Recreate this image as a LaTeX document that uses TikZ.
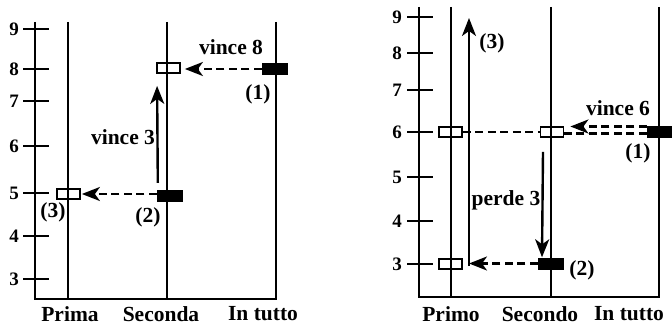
\documentclass[tikz,border=0pt]{standalone}
\usepackage{fontspec}
\setmainfont{Liberation Serif}
\usetikzlibrary{arrows.meta,calc}
\begin{document}
\begin{tikzpicture}[x=1pt,y=-1pt,
  lin/.style={line width=2.4pt},
  thin lin/.style={line width=2.1pt},
  openbox/.style={draw, line width=1.8pt, minimum width=23pt, minimum height=10pt, inner sep=0pt},
  fillbox/.style={fill=black, minimum width=26pt, minimum height=12pt, inner sep=0pt},
  dashline/.style={line width=2.3pt, dash pattern=on 8pt off 4.5pt},
  arr/.style={-{Stealth[length=18pt,width=14pt,inset=5pt]}},
  lbl/.style={font=\fontsize{21.5}{24}\selectfont\bfseries, inner sep=0pt},
  num/.style={font=\fontsize{19}{22}\selectfont\bfseries, inner sep=0pt}]
\useasboundingbox (0,0) rectangle (672,326);

% ---------- left diagram ----------
\draw[lin] (35,22) -- (35,299) -- (277,299);
\foreach \v/\y in {9/29,8/69,7/101,6/146,5/193,4/236,3/279}{
  \draw[lin] (23,\y) -- (49,\y);
  \node[num] (Ln\v) at (14,\y) {\v};
}
\draw[thin lin] (68,22) -- (68,299);
\draw[thin lin] (167,22) -- (167,299);
\draw[thin lin] (276,22) -- (276,299);

\node[openbox] (Lo8) at (168.5,68) {};
\node[fillbox] (Lf8) at (275,69) {};
\node[fillbox] (Lf5) at (170,196) {};
\node[openbox] (Lo5) at (68.5,194) {};

\draw[dashline,arr,shorten >=4pt] (Lf8.west) -- (Lf8.west -| Lo8.east);
\draw[dashline,arr,shorten >=1pt] ([yshift=2pt]Lf5.west) -- ([yshift=2pt]Lf5.west -| Lo5.east);
\draw[lin,arr] ([xshift=1pt,yshift=7pt]Lf5.north west) -- ([xshift=1pt,yshift=-12pt]Lo8.south west);

\node[lbl] (Lv8) at (231,47) {vince 8};
\node[lbl] (L1) at (258,94) {(1)};
\node[lbl] (Lv3) at (123,137) {vince 3};
\node[lbl] (L3) at (53,212) {(3)};
\node[lbl] (L2) at (148,217) {(2)};
\node[lbl] (Lp) at (70,314) {Prima};
\node[lbl] (Ls) at (161,314) {Seconda};
\node[lbl] (Lt) at (263,314) {In tutto};

% ---------- right diagram ----------
\draw[lin] (419,7) -- (419,297) -- (660,297);
\foreach \v/\y in {9/17,8/53,7/90,6/132,5/177,4/221,3/264}{
  \draw[lin] (407,\y) -- (433,\y);
  \node[num] (Rn\v) at (397,\y) {\v};
}
\draw[thin lin] (451,7) -- (451,297);
\draw[thin lin] (551,7) -- (551,297);
\draw[thin lin] (659,7) -- (659,297);

\node[openbox] (Ro6a) at (450.5,132) {};
\node[openbox] (Ro6b) at (552,132) {};
\node[fillbox] (Rf6) at (660,132.5) {};
\node[fillbox] (Rf3) at (551,263.5) {};
\node[openbox] (Ro3) at (450.5,264) {};

\coordinate (Rbot) at (469,266);
\coordinate (Rtop) at (469,18);

\draw[dashline] (Ro6a.east) -- (Ro6b.west);
\draw[dashline] ([yshift=-1pt]Rf6.west) -- ([yshift=-1pt]Rf6.west -| Ro6b.east);
\draw[dashline,arr,shorten >=6pt] ([yshift=6pt]Rf6.west) -- ([yshift=6pt]Rf6.west -| Ro6b.east);
\draw[dashline,arr] (Rf3.west) -- (Rf3.west -| Rbot);
\draw[thin lin,arr] (Rbot) -- (Rtop);
\draw[lin,arr] ([xshift=-9pt,yshift=-14pt]Ro6b.south) -- ([xshift=-9pt]Rf3.north);

\node[lbl] (Rv6) at (618,108) {vince 6};
\node[lbl] (R1) at (638,153) {(1)};
\node[lbl] (Rpd) at (506,200) {perde 3};
\node[lbl] (R3) at (492,43) {(3)};
\node[lbl] (R2) at (582,270) {(2)};
\node[lbl] (Rp) at (451,314) {Primo};
\node[lbl] (Rs) at (540,314) {Secondo};
\node[lbl] (Rt) at (629,314) {In tutto};
\end{tikzpicture}
\end{document}
